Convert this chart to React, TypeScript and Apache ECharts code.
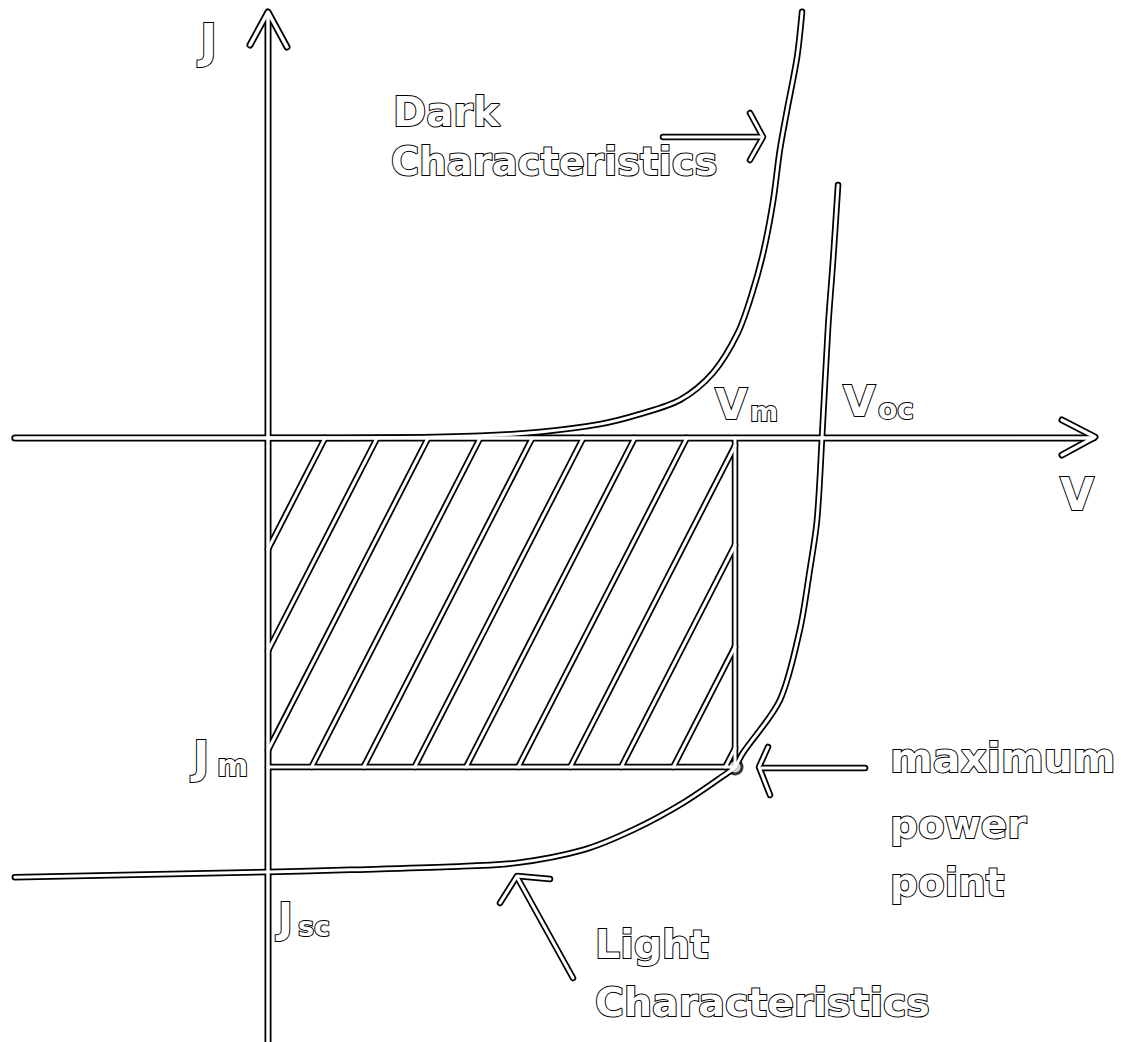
import React, { useEffect, useRef } from "react";
import * as echarts from "echarts";

// ---- layout constants (pixel frame of the drawing) ----
const W = 1138;
const H = 1042;
const ORIGIN_X = 268;
const ORIGIN_Y = 438;
const PX_PER_V = 554;
const PX_PER_J = 434;

// ---- characteristic values (normalised units: Voc = 1, Jsc = -1) ----
const V_OC = 1.0;
const V_M = 0.843;
const J_M = -0.758;
const J_SC = -1.0;

// Dark characteristic [V, J]
const darkV = [0, 0.238, 0.383, 0.491, 0.599, 0.671, 0.744, 0.803, 0.848, 0.874, 0.895, 0.912, 0.924, 0.937, 0.955, 0.964];
const darkJ = [0, 0.001, 0.005, 0.014, 0.032, 0.055, 0.088, 0.15, 0.242, 0.334, 0.433, 0.548, 0.664, 0.756, 0.878, 0.982];

// Light characteristic [V, J]
const lightV = [1.029, 1.02, 1.011, 1.0, 0.991, 0.978, 0.96, 0.924, 0.857, 0.843, 0.829, 0.749, 0.659, 0.569, 0.449, 0.329, 0.148, 0, -0.457];
const lightJ = [0.583, 0.41, 0.256, 0, -0.189, -0.304, -0.442, -0.604, -0.726, -0.758, -0.772, -0.841, -0.903, -0.949, -0.979, -0.988, -0.995, -1.0, -1.012];

// Hatching: V-intercepts at J = 0 of the diagonal hatch lines, and their slope dJ/dV
const hatchTopV = [0.103, 0.197, 0.289, 0.383, 0.477, 0.569, 0.662, 0.756, 0.85, 0.942, 1.036, 1.13];
const HATCH_SLOPE = 2.49;

// Axis extents
const V_AXIS_RANGE = [-0.457, 1.49];
const J_AXIS_RANGE = [-1.392, 0.97];

const toData = (x: number, y: number) => [(x - ORIGIN_X) / PX_PER_V, (ORIGIN_Y - y) / PX_PER_J];

export default function App() {
  const ref = useRef<HTMLDivElement>(null);

  useEffect(() => {
    if (!ref.current) return;
    const chart = echarts.init(ref.current, undefined, { renderer: "svg" });

    const zip = (a: number[], b: number[]) => a.map((v, i) => [v, b[i]]);

    const hatchLines = hatchTopV.map((t) => {
      let v0 = t;
      let j0 = 0;
      if (v0 > V_M) {
        v0 = V_M;
        j0 = (V_M - t) * HATCH_SLOPE;
      }
      let v1 = t + J_M / HATCH_SLOPE;
      let j1 = J_M;
      if (v1 < 0) {
        v1 = 0;
        j1 = -t * HATCH_SLOPE;
      }
      return [[v0, j0], [v1, j1]];
    });

    const pxPoly = (pts: number[][]) => pts.map(([x, y]) => toData(x, y));

    type Stroke = { data: number[][]; w?: number; smooth?: number };
    const strokes: Stroke[] = [
      { data: [[0, J_AXIS_RANGE[0]], [0, J_AXIS_RANGE[1]]], w: 7 },
      { data: [[V_AXIS_RANGE[0], 0], [V_AXIS_RANGE[1], 0]], w: 7 },
      { data: pxPoly([[250, 45], [268, 12], [287, 47]]), w: 7 },
      { data: pxPoly([[1062, 420], [1095, 437], [1062, 455]]), w: 7 },
      { data: [[V_M, 0], [V_M, J_M]] },
      { data: [[0, J_M], [V_M, J_M]] },
      ...hatchLines.map((d) => ({ data: d })),
      { data: zip(darkV, darkJ), smooth: 0.3 },
      { data: zip(lightV, lightJ), smooth: 0.3 },
      // annotation arrows
      { data: pxPoly([[663, 137], [760, 137]]) },
      { data: pxPoly([[750, 113], [763, 137], [750, 160]]) },
      { data: pxPoly([[865, 768], [762, 768]]) },
      { data: pxPoly([[768, 747], [759, 767], [770, 795]]) },
      { data: pxPoly([[573, 978], [517, 877]]) },
      { data: pxPoly([[500, 903], [517, 876], [550, 879]]) },
    ];

    const series: any[] = [];
    strokes.forEach((s) => {
      const base = {
        type: "line",
        data: s.data,
        showSymbol: false,
        symbol: "none",
        silent: true,
        smooth: s.smooth || false,
        clip: false,
      };
      series.push({ ...base, z: 1, lineStyle: { color: "#000", width: s.w || 6.5, cap: "round", join: "round" } });
      series.push({ ...base, z: 3, lineStyle: { color: "#fff", width: (s.w || 6.5) - 3.5, cap: "round", join: "round" } });
    });
    // maximum power point blob
    series.push({ type: "scatter", data: [[V_M, J_M]], symbolSize: 17, z: 1, silent: true, itemStyle: { color: "#000" } });
    series.push({ type: "scatter", data: [[V_M, J_M]], symbolSize: 11, z: 3, silent: true, itemStyle: { color: "#fff" } });

    const FONT = "DejaVu Sans";
    const txt = (text: string, x: number, y: number, size: number) => ({
      type: "text",
      x,
      y,
      z: 10,
      silent: true,
      style: {
        text,
        fill: "#fff",
        stroke: "#000",
        lineWidth: 2,
        fontSize: size,
        fontWeight: "bold",
        fontFamily: FONT,
        align: "left",
        verticalAlign: "middle",
      },
    });

    chart.setOption({
      animation: false,
      backgroundColor: "#fff",
      grid: { left: 0, right: 0, top: 0, bottom: 0, containLabel: false },
      xAxis: {
        type: "value",
        min: -ORIGIN_X / PX_PER_V,
        max: (W - ORIGIN_X) / PX_PER_V,
        show: false,
      },
      yAxis: {
        type: "value",
        min: -(H - ORIGIN_Y) / PX_PER_J,
        max: ORIGIN_Y / PX_PER_J,
        show: false,
      },
      series,
      graphic: [
        txt("J", 200, 41, 46),
        txt("Dark", 393, 112, 40),
        txt("Characteristics", 391, 161, 38.5),
        txt("V", 715, 404, 42),
        txt("m", 750, 411, 27),
        txt("V", 843, 401, 42),
        txt("oc", 878, 409, 28),
        txt("V", 1060, 494, 44),
        txt("J", 193, 757, 44),
        txt("m", 217, 765, 30),
        txt("J", 278, 918, 40),
        txt("sc", 298, 926, 27),
        txt("maximum", 890, 758, 41),
        txt("power", 890, 824, 39),
        txt("point", 890, 882, 39),
        txt("Light", 595, 944, 39.5),
        txt("Characteristics", 595, 1002, 39.5),
      ],
    });

    return () => chart.dispose();
  }, []);

  return <div ref={ref} style={{ position: "absolute", left: 0, top: 0, width: W, height: H }} />;
}
